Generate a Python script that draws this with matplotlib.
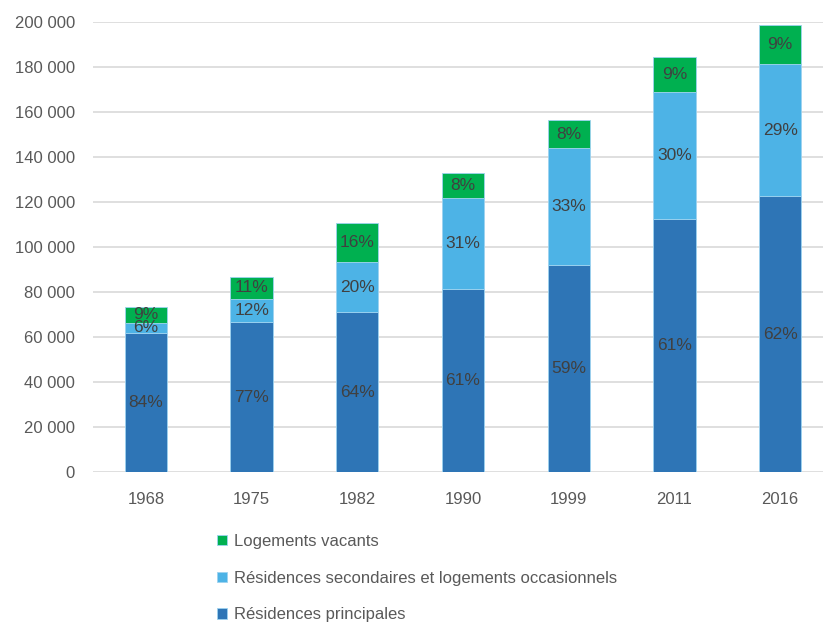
import matplotlib
matplotlib.use("Agg")
import matplotlib.pyplot as plt
import numpy as np
from matplotlib.ticker import FuncFormatter

years = ["1968", "1975", "1982", "1990", "1999", "2011", "2016"]
principales = [61900, 66600, 71300, 81300, 92100, 112600, 122800]
secondaires = [4500, 10600, 22000, 40700, 51900, 56300, 58500]
vacants = [7100, 9600, 17700, 10900, 12400, 15800, 17400]
pct_principales = ["84%", "77%", "64%", "61%", "59%", "61%", "62%"]
pct_secondaires = ["6%", "12%", "20%", "31%", "33%", "30%", "29%"]
pct_vacants = ["9%", "11%", "16%", "8%", "8%", "9%", "9%"]
series_names = ["Résidences principales",
                "Résidences secondaires et logements occasionnels",
                "Logements vacants"]
y_ticks = [0, 20000, 40000, 60000, 80000, 100000, 120000, 140000, 160000, 180000, 200000]

colors = ["#2E75B6", "#4DB3E6", "#00B050"]
plt.rcParams['font.family'] = ['Liberation Sans', 'DejaVu Sans']

W, H = 823, 623
fig = plt.figure(figsize=(W / 100, H / 100), dpi=100)
left, right = 93, 833
top, bottom = 22.3, 472.3
ax = fig.add_axes([left / W, 1 - bottom / H, (right - left) / W, (bottom - top) / H])

x = np.arange(len(years))
bw = 0.4
series = [principales, secondaires, vacants]
labels = [pct_principales, pct_secondaires, pct_vacants]
base = np.zeros(len(years))
handles = []
for vals, lab, col, name in zip(series, labels, colors, series_names):
    vals = np.array(vals, dtype=float)
    b = ax.bar(x, vals, bw, bottom=base, color=col, edgecolor="#9DD3F0",
               linewidth=0.6, label=name, zorder=3)
    handles.append(b)
    for xi, v, bs, t in zip(x, vals, base, lab):
        ax.text(xi, bs + v / 2, t, ha="center", va="center", fontsize=12.5,
                color="#404040", zorder=4)
    base = base + vals

ax.set_xlim(-0.5, len(years) - 0.5)
ax.set_ylim(0, 200000)
ax.set_yticks(y_ticks)
ax.yaxis.set_major_formatter(FuncFormatter(lambda v, p: f"{int(v):,}".replace(",", " ")))
ax.set_xticks(x)
ax.set_xticklabels(years)
ax.grid(axis="y", color="#D9D9D9", linewidth=1.2, zorder=0)
ax.set_axisbelow(True)
for s in ax.spines.values():
    s.set_visible(False)
ax.tick_params(axis="both", length=0, labelsize=12, colors="#595959")
ax.tick_params(axis="x", pad=14)
ax.tick_params(axis="y", pad=13)

leg = fig.legend(handles[::-1], series_names[::-1], loc="upper left",
                 bbox_to_anchor=(202 / W, 1 - 519 / H), frameon=False,
                 fontsize=12, handlelength=0.6, handleheight=0.6,
                 handletextpad=0.4, labelspacing=1.3, labelcolor="#595959")

fig.savefig("out.png", dpi=100)
